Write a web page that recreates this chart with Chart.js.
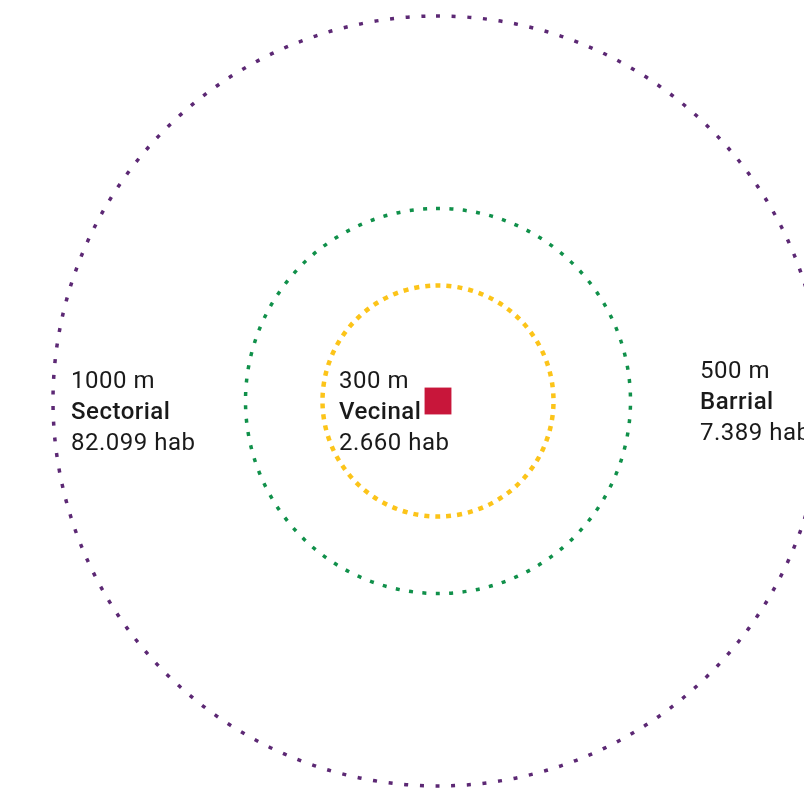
<!DOCTYPE html>
<html>
<head>
<meta charset="utf-8">
<script src="https://cdn.jsdelivr.net/npm/chart.js@4"></script>
<style>
  html, body { margin: 0; padding: 0; background: #fff; overflow: hidden; }
  #wrap { width: 804px; height: 793px; position: relative; }
</style>
</head>
<body>
<div id="wrap"><canvas id="rings"></canvas></div>
<script>
// catchment rings: radius in metres, name, inhabitants
const distances = [300, 500, 1000];
const areaNames = ['Vecinal', 'Barrial', 'Sectorial'];
const inhabitants = [2660, 7389, 82099];
const ringColors = ['#fcc419', '#10904a', '#5c2874'];

// ring stroke look (dot size / spacing in px)
const ringStyle = [
  { width: 4.5, dot: 5, step: 11 },
  { width: 3.5, dot: 4, step: 13.5 },
  { width: 3.5, dot: 4, step: 15.7 }
];
// where each text block sits (left x, first baseline)
const labelPos = [
  { x: 339, y: 387.5 },
  { x: 700, y: 377.5 },
  { x: 71, y: 387.5 }
];

const W = 804, H = 793;
const cx = 438, cy = 401, k = 0.385; // px per metre

const ringsPlugin = {
  id: 'rings',
  beforeDatasetsDraw(chart) {
    const { ctx, scales: { x, y } } = chart;
    const ox = x.getPixelForValue(0), oy = y.getPixelForValue(0);
    distances.forEach((d, i) => {
      const r = x.getPixelForValue(d) - ox;
      const st = ringStyle[i];
      const circ = 2 * Math.PI * r;
      const n = Math.round(circ / st.step);
      const step = circ / n;
      ctx.save();
      ctx.beginPath();
      ctx.arc(ox, oy, r, -Math.PI / 2 - (st.dot / 2) / r, 1.5 * Math.PI - (st.dot / 2) / r);
      ctx.setLineDash([st.dot, step - st.dot]);
      ctx.lineWidth = st.width;
      ctx.lineCap = 'butt';
      ctx.strokeStyle = ringColors[i];
      ctx.stroke();
      ctx.restore();
    });
  },
  afterDatasetsDraw(chart) {
    const { ctx } = chart;
    ctx.save();
    ctx.fillStyle = '#1a1a1a';
    ctx.textBaseline = 'alphabetic';
    ctx.textAlign = 'left';
    ctx.letterSpacing = '0.5px';
    distances.forEach((d, i) => {
      const p = labelPos[i];
      ctx.font = '400 24px Roboto';
      ctx.fillText(d + ' m', p.x, p.y);
      ctx.font = '500 24px Roboto';
      ctx.fillText(areaNames[i], p.x, p.y + 31);
      ctx.font = '400 24px Roboto';
      ctx.fillText(inhabitants[i].toLocaleString('de-DE') + ' hab', p.x, p.y + 62);
    });
    ctx.restore();
  }
};

new Chart(document.getElementById('rings'), {
  type: 'scatter',
  data: {
    datasets: [{
      data: [{ x: 0, y: 0 }],
      pointStyle: 'rect',
      radius: 19,
      backgroundColor: '#c8163a',
      borderWidth: 0
    }]
  },
  options: {
    responsive: true,
    maintainAspectRatio: false,
    animation: false,
    layout: { padding: 0, autoPadding: false },
    plugins: { legend: { display: false }, tooltip: { enabled: false } },
    scales: {
      x: { type: 'linear', display: false, min: -cx / k, max: (W - cx) / k },
      y: { type: 'linear', display: false, min: -(H - cy) / k, max: cy / k }
    }
  },
  plugins: [ringsPlugin]
});
</script>
</body>
</html>
